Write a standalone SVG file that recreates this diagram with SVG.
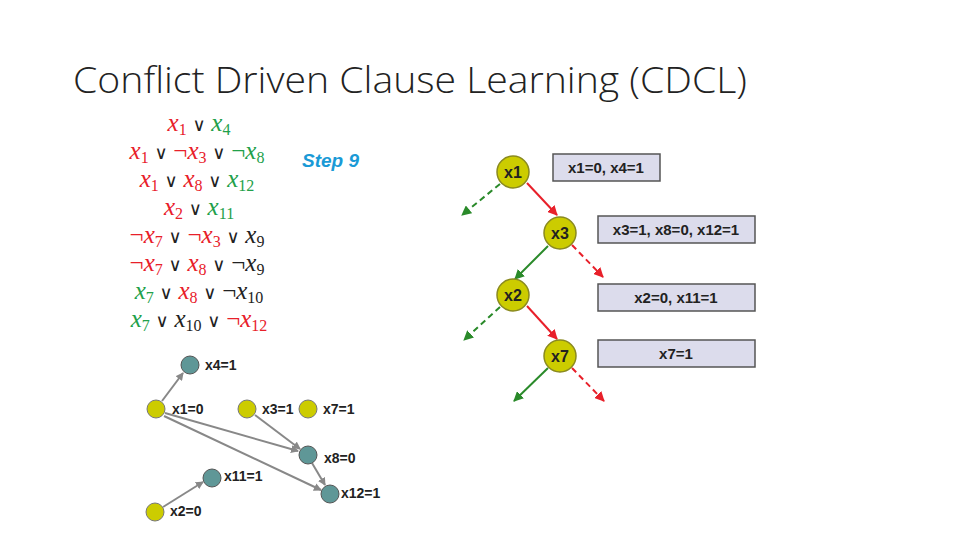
<svg xmlns="http://www.w3.org/2000/svg" width="960" height="540" viewBox="0 0 960 540">
<style>
.t{font-family:"Liberation Sans",Arial,sans-serif}
.m{font-family:"Liberation Serif",serif;font-size:25px;text-anchor:middle}
.v{font-style:italic}
.o{font-family:"DejaVu Sans",sans-serif;font-size:18px;font-weight:normal}
.r{fill:#e8202a}.g{fill:#22a04a}.k{fill:#222}
.y{fill:#cccc00;stroke:#777;stroke-width:1}
.c{fill:#5f9797;stroke:#555;stroke-width:1}
.n{fill:#cccc00;stroke:#8a8a20;stroke-width:1.5}
.lb{font-family:"Liberation Sans",Arial,sans-serif;font-size:14px;font-weight:bold;fill:#222}
.box{fill:#dcdcec;stroke:#555;stroke-width:1.5}
.bt{font-family:"Liberation Sans",Arial,sans-serif;font-size:15px;font-weight:bold;fill:#222;text-anchor:middle}
.nt{font-family:"Liberation Sans",Arial,sans-serif;font-size:16px;font-weight:bold;fill:#222;text-anchor:middle}
.ge{stroke:#888;stroke-width:2;fill:none;marker-end:url(#ga)}
.rs{stroke:#e8202a;stroke-width:2;fill:none;marker-end:url(#ra)}
.gs{stroke:#2a8a2a;stroke-width:2;fill:none;marker-end:url(#gga)}
.d{stroke-dasharray:6 4}
</style>
<defs>
<marker id="ga" markerWidth="8" markerHeight="8" refX="7" refY="4" orient="auto" markerUnits="userSpaceOnUse"><path d="M0,0L8,4L0,8z" fill="#888"/></marker>
<marker id="ra" markerWidth="10" markerHeight="10" refX="9" refY="5" orient="auto" markerUnits="userSpaceOnUse"><path d="M0,0L10,5L0,10z" fill="#e8202a"/></marker>
<marker id="gga" markerWidth="10" markerHeight="10" refX="9" refY="5" orient="auto" markerUnits="userSpaceOnUse"><path d="M0,0L10,5L0,10z" fill="#2a8a2a"/></marker>
</defs>
<text x="73" y="93" font-family="'Open Sans','Liberation Sans',sans-serif" font-weight="300" font-size="36" fill="#222" textLength="674" lengthAdjust="spacingAndGlyphs">Conflict Driven Clause Learning (CDCL)</text>
<g id="clauses" class="m">
<text x="199" y="131"><tspan class="r v">x</tspan><tspan class="r" font-size="16" dy="4">1</tspan><tspan class="k o" dy="-4"> ∨ </tspan><tspan class="g v">x</tspan><tspan class="g" font-size="16" dy="4">4</tspan></text>
<text x="197" y="159"><tspan class="r v">x</tspan><tspan class="r" font-size="16" dy="4">1</tspan><tspan class="k o" dy="-4"> ∨ </tspan><tspan class="r">¬</tspan><tspan class="r v">x</tspan><tspan class="r" font-size="16" dy="4">3</tspan><tspan class="k o" dy="-4"> ∨ </tspan><tspan class="g">¬</tspan><tspan class="g v">x</tspan><tspan class="g" font-size="16" dy="4">8</tspan></text>
<text x="197" y="187"><tspan class="r v">x</tspan><tspan class="r" font-size="16" dy="4">1</tspan><tspan class="k o" dy="-4"> ∨ </tspan><tspan class="r v">x</tspan><tspan class="r" font-size="16" dy="4">8</tspan><tspan class="k o" dy="-4"> ∨ </tspan><tspan class="g v">x</tspan><tspan class="g" font-size="16" dy="4">12</tspan></text>
<text x="199" y="215"><tspan class="r v">x</tspan><tspan class="r" font-size="16" dy="4">2</tspan><tspan class="k o" dy="-4"> ∨ </tspan><tspan class="g v">x</tspan><tspan class="g" font-size="16" dy="4">11</tspan></text>
<text x="197" y="243"><tspan class="r">¬</tspan><tspan class="r v">x</tspan><tspan class="r" font-size="16" dy="4">7</tspan><tspan class="k o" dy="-4"> ∨ </tspan><tspan class="r">¬</tspan><tspan class="r v">x</tspan><tspan class="r" font-size="16" dy="4">3</tspan><tspan class="k o" dy="-4"> ∨ </tspan><tspan class="k v">x</tspan><tspan class="k" font-size="16" dy="4">9</tspan></text>
<text x="197" y="271"><tspan class="r">¬</tspan><tspan class="r v">x</tspan><tspan class="r" font-size="16" dy="4">7</tspan><tspan class="k o" dy="-4"> ∨ </tspan><tspan class="r v">x</tspan><tspan class="r" font-size="16" dy="4">8</tspan><tspan class="k o" dy="-4"> ∨ </tspan><tspan class="k">¬</tspan><tspan class="k v">x</tspan><tspan class="k" font-size="16" dy="4">9</tspan></text>
<text x="199" y="299"><tspan class="g v">x</tspan><tspan class="g" font-size="16" dy="4">7</tspan><tspan class="k o" dy="-4"> ∨ </tspan><tspan class="r v">x</tspan><tspan class="r" font-size="16" dy="4">8</tspan><tspan class="k o" dy="-4"> ∨ </tspan><tspan class="k">¬</tspan><tspan class="k v">x</tspan><tspan class="k" font-size="16" dy="4">10</tspan></text>
<text x="199" y="327"><tspan class="g v">x</tspan><tspan class="g" font-size="16" dy="4">7</tspan><tspan class="k o" dy="-4"> ∨ </tspan><tspan class="k v">x</tspan><tspan class="k" font-size="16" dy="4">10</tspan><tspan class="k o" dy="-4"> ∨ </tspan><tspan class="r">¬</tspan><tspan class="r v">x</tspan><tspan class="r" font-size="16" dy="4">12</tspan></text>
</g>
<text class="t" x="302" y="167" font-size="19" font-weight="bold" font-style="italic" fill="#1a9ad6">Step 9</text>
<g id="connectors">
<path class="ge" d="M162,401L183,373"/>
<path class="ge" d="M165,413L298,451"/>
<path class="ge" d="M164,416L321,490"/>
<path class="ge" d="M255,415L300,449"/>
<path class="ge" d="M312,463L325,485"/>
<path class="ge" d="M163,507L203,482"/>
<path class="rs" d="M527,183L557,215"/>
<path class="gs d" d="M500,184L462,215"/>
<path class="gs" d="M548,246L515,279"/>
<path class="rs d" d="M572,245L603,277"/>
<path class="gs d" d="M500,307L464,340"/>
<path class="rs" d="M527,306L557,339"/>
<path class="gs" d="M548,368L514,401"/>
<path class="rs d" d="M572,368L604,401"/>
</g>
<g id="g-x4"><circle class="c" cx="190" cy="365" r="9"/><text class="lb" x="205" y="370">x4=1</text></g>
<g id="g-x1"><circle class="y" cx="156" cy="409" r="9"/><text class="lb" x="172" y="414">x1=0</text></g>
<g id="g-x3"><circle class="y" cx="247" cy="409" r="9"/><text class="lb" x="262" y="414">x3=1</text></g>
<g id="g-x7"><circle class="y" cx="308" cy="409" r="9"/><text class="lb" x="323" y="414">x7=1</text></g>
<g id="g-x8"><circle class="c" cx="308" cy="455" r="9"/><text class="lb" x="324" y="463">x8=0</text></g>
<g id="g-x11"><circle class="c" cx="212" cy="478" r="9"/><text class="lb" x="224" y="481">x11=1</text></g>
<g id="g-x12"><circle class="c" cx="330" cy="494" r="9"/><text class="lb" x="341" y="498">x12=1</text></g>
<g id="g-x2"><circle class="y" cx="155" cy="512" r="9"/><text class="lb" x="170" y="516">x2=0</text></g>
<g id="t-x1"><circle class="n" cx="513" cy="172" r="16"/><text class="nt" x="513" y="178">x1</text></g>
<g id="t-x3"><circle class="n" cx="560" cy="233" r="16"/><text class="nt" x="560" y="239">x3</text></g>
<g id="t-x2"><circle class="n" cx="513" cy="295" r="16"/><text class="nt" x="513" y="301">x2</text></g>
<g id="t-x7"><circle class="n" cx="560" cy="356" r="16"/><text class="nt" x="560" y="362">x7</text></g>
<g id="b1"><rect class="box" x="553" y="154" width="107" height="27"/><text class="bt" x="606" y="173">x1=0, x4=1</text></g>
<g id="b2"><rect class="box" x="598" y="216" width="157" height="27"/><text class="bt" x="676" y="235">x3=1, x8=0, x12=1</text></g>
<g id="b3"><rect class="box" x="598" y="284" width="157" height="27"/><text class="bt" x="676" y="303">x2=0, x11=1</text></g>
<g id="b4"><rect class="box" x="598" y="340" width="157" height="27"/><text class="bt" x="676" y="359">x7=1</text></g>
</svg>
